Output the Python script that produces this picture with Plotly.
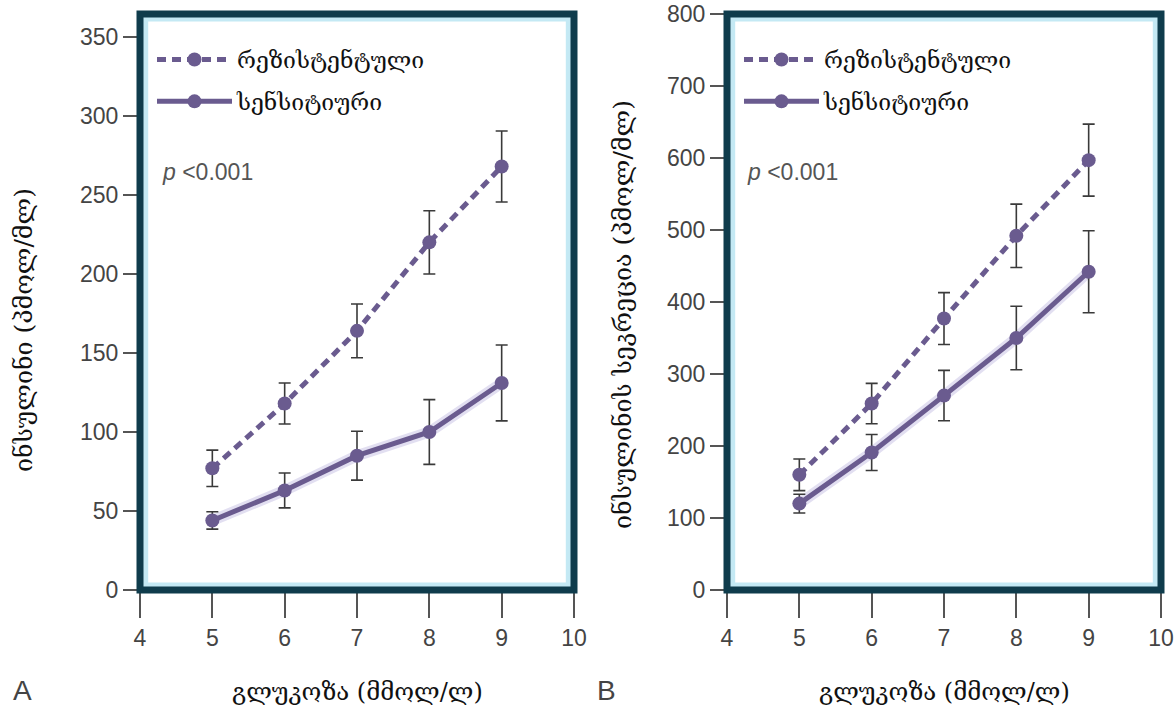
import plotly.graph_objects as go

glucose = [5, 6, 7, 8, 9]

# Panel A: insulin (pmol/ml)
a_res = [77, 118, 164, 220, 268]
a_res_err = [11.5, 13, 17, 20, 22.5]
a_sen = [44, 63, 85, 100, 131]
a_sen_err = [5.5, 11, 15.5, 20.5, 24]

# Panel B: insulin secretion (pmol/ml)
b_res = [160, 259, 377, 492, 597]
b_res_err = [22, 28, 36, 44, 50]
b_sen = [120, 191, 270, 350, 442]
b_sen_err = [13, 25, 35, 44, 57]

x_ticks = [4, 5, 6, 7, 8, 9, 10]
a_yticks = [0, 50, 100, 150, 200, 250, 300, 350]
b_yticks = [0, 100, 200, 300, 400, 500, 600, 700, 800]

name_res = "რეზისტენტული"
name_sen = "სენსიტიური"
x_title = "გლუკოზა (მმოლ/ლ)"
a_ytitle = "ინსულინი (პმოლ/მლ)"
b_ytitle = "ინსულინის სეკრეცია (პმოლ/მლ)"

PURPLE = "#6a5b8f"
GLOW = "rgba(150,140,205,0.28)"
ERR = "#3a3a3a"
DARK = "#0f3c4c"
LIGHTBLUE = "#c4e9f4"
SERIF = "DejaVu Serif"
SANS = "Liberation Sans Narrow, Liberation Sans, Arial"

W, H = 1175, 713


def px(x):
    return x / W


def py(y):
    return 1 - y / H


fig = go.Figure()


def add_panel(xa, ya, res, res_err, sen, sen_err, legend):
    # glow under the sensitive line
    fig.add_trace(go.Scatter(x=glucose, y=sen, mode="lines", xaxis=xa, yaxis=ya,
                             line=dict(color=GLOW, width=11), showlegend=False,
                             hoverinfo="skip"))
    fig.add_trace(go.Scatter(
        x=glucose, y=res, mode="lines+markers", name=name_res, xaxis=xa, yaxis=ya,
        line=dict(color=PURPLE, width=5, dash="9px,6px"),
        marker=dict(color=PURPLE, size=14),
        error_y=dict(type="data", array=res_err, color=ERR, thickness=1.6, width=6),
        legend=legend, legendgroup=legend + "r"))
    fig.add_trace(go.Scatter(
        x=glucose, y=sen, mode="lines+markers", name=name_sen, xaxis=xa, yaxis=ya,
        line=dict(color=PURPLE, width=5),
        marker=dict(color=PURPLE, size=14),
        error_y=dict(type="data", array=sen_err, color=ERR, thickness=1.6, width=6),
        legend=legend, legendgroup=legend + "s"))


add_panel("x", "y", a_res, a_res_err, a_sen, a_sen_err, "legend")
add_panel("x2", "y2", b_res, b_res_err, b_sen, b_sen_err, "legend2")

TOP = py(14)
BOT = py(590)

xcommon = dict(range=[4, 10], tickvals=x_ticks, ticks="outside", ticklen=27,
               tickwidth=2, tickcolor="#555", showgrid=False, zeroline=False,
               showline=False, tickfont=dict(family=SANS, size=23, color="#444"),
               fixedrange=True, automargin=False)
ycommon = dict(ticks="outside", ticklen=16, tickwidth=2, tickcolor="#555",
               showgrid=False, zeroline=False, showline=False,
               tickfont=dict(family=SANS, size=23, color="#444"), fixedrange=True,
               automargin=False)

legend_common = dict(xanchor="left", yanchor="top", bgcolor="rgba(0,0,0,0)",
                     itemwidth=75, tracegroupgap=9,
                     font=dict(family=SERIF, size=23, color="#111"))

fig.update_layout(
    width=W, height=H,
    margin=dict(l=0, r=0, t=0, b=0),
    paper_bgcolor="white", plot_bgcolor="white",
    xaxis=dict(domain=[px(140), px(574)], anchor="y", **xcommon),
    yaxis=dict(domain=[BOT, TOP], anchor="x", range=[0, 364.5], tickvals=a_yticks, **ycommon),
    xaxis2=dict(domain=[px(727), px(1161)], anchor="y2", **xcommon),
    yaxis2=dict(domain=[BOT, TOP], anchor="x2", range=[0, 800], tickvals=b_yticks, **ycommon),
    legend=dict(x=px(152), y=py(38), **legend_common),
    legend2=dict(x=px(739), y=py(38), **legend_common),
    showlegend=True,
    hovermode=False,
)

# frames: light blue inner glow and dark border
for xr, yr in (("x domain", "y domain"), ("x2 domain", "y2 domain")):
    fig.add_shape(type="rect", xref=xr, yref=yr, x0=0.012, x1=0.988, y0=0.008, y1=0.992,
                  line=dict(color=LIGHTBLUE, width=6), fillcolor="rgba(0,0,0,0)", layer="below")
    fig.add_shape(type="rect", xref=xr, yref=yr, x0=0, x1=1, y0=0, y1=1,
                  line=dict(color=DARK, width=7), fillcolor="rgba(0,0,0,0)", layer="above")

ann = []
for xp in (160, 745):
    ann.append(dict(x=px(xp), y=py(172), xref="paper", yref="paper",
                    text="<i>p</i> <0.001", showarrow=False, xanchor="left", yanchor="middle",
                    font=dict(family=SANS, size=23, color="#555")))
for xp, letter in ((22, "A"), (607, "B")):
    ann.append(dict(x=px(xp), y=py(690), xref="paper", yref="paper",
                    text=letter, showarrow=False, xanchor="center", yanchor="middle",
                    font=dict(family="Liberation Sans, Arial", size=28, color="#444")))
for xp in (357, 944):
    ann.append(dict(x=px(xp), y=py(692), xref="paper", yref="paper",
                    text=x_title, showarrow=False, xanchor="center", yanchor="middle",
                    font=dict(family=SERIF, size=24, color="#111")))
ann.append(dict(x=px(23), y=py(330), xref="paper", yref="paper",
                text=a_ytitle, textangle=-90, showarrow=False, xanchor="center", yanchor="middle",
                font=dict(family=SERIF, size=25, color="#111")))
ann.append(dict(x=px(622), y=py(315), xref="paper", yref="paper",
                text=b_ytitle, textangle=-90, showarrow=False, xanchor="center", yanchor="middle",
                font=dict(family=SERIF, size=25, color="#111")))
fig.update_layout(annotations=ann)

fig.write_html("out.html", config={"displayModeBar": False},
               post_script="document.body.style.margin='0px';")
